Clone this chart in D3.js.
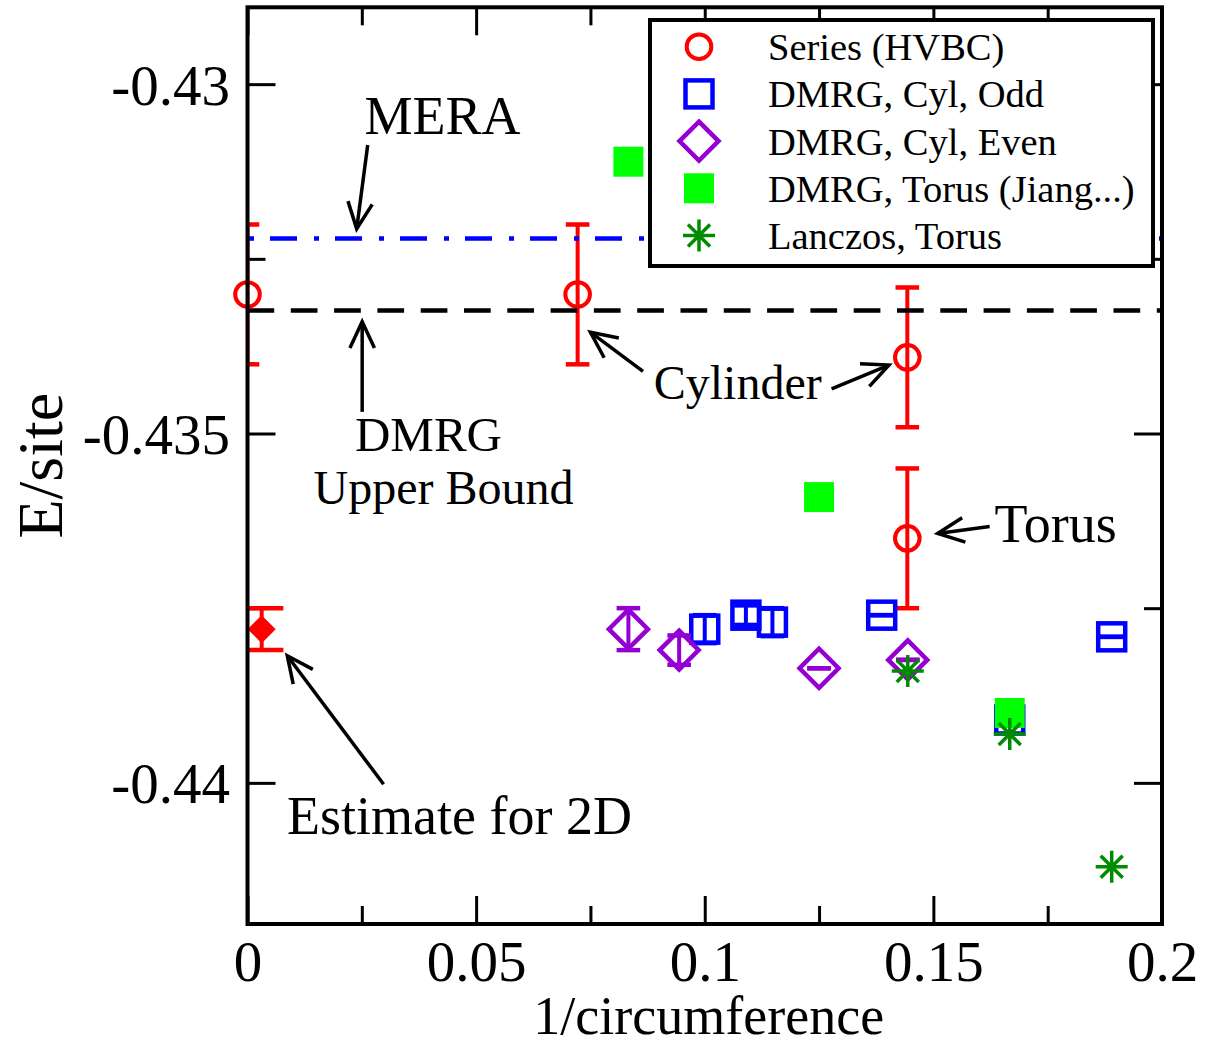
<!DOCTYPE html>
<html>
<head>
<meta charset="utf-8">
<script src="https://cdn.jsdelivr.net/npm/d3@7"></script>
<style>
  body { margin: 0; background: #fff; }
  text { font-family: "Liberation Serif", "Times New Roman", serif; }
</style>
</head>
<body>
<script>
// series (HVBC): cylinder points + torus point
const hvbcX = [0, 0.0722, 0.1443, 0.1443];
const hvbcY = [-0.43301, -0.43301, -0.43391, -0.4365];
const hvbcErr = [0.001, 0.001, 0.001, 0.001];

// DMRG cylinders, odd
const oddX = [0.1, 0.109, 0.1148, 0.1387, 0.1667, 0.189];
const oddY = [-0.4378, -0.4376, -0.4377, -0.4376, -0.4391, -0.43791];
const oddErr = [0.0002, 0.00014, 0.0002, 0, 0, 0];

// DMRG cylinders, even
const evenX = [0.0833, 0.0944, 0.125, 0.1444];
const evenY = [-0.4378, -0.4381, -0.43836, -0.43824];
const evenErr = [0.0003, 0.00021, 0, 0];

// DMRG torus (Jiang...)
const jiangX = [0.0833, 0.125, 0.1667];
const jiangY = [-0.43111, -0.43591, -0.439];

// Lanczos torus
const lanczosX = [0.1444, 0.1667, 0.189];
const lanczosY = [-0.4384, -0.4393, -0.4412];

// 2D estimate
const estX = [0.0031];
const estY = [-0.4378];
const estErr = [0.0003];

const meraE = -0.43221;
const dmrgBoundE = -0.43324;

const xTicks = [0, 0.05, 0.1, 0.15, 0.2];
const xTickLabels = ["0", "0.05", "0.1", "0.15", "0.2"];
const xMinor = [0.025, 0.075, 0.125, 0.175];
const yTicks = [-0.43, -0.435, -0.44];
const yTickLabels = ["-0.43", "-0.435", "-0.44"];
const yMinor = [-0.4325, -0.4375];

const legendLabels = ["Series (HVBC)", "DMRG, Cyl, Odd", "DMRG, Cyl, Even", "DMRG, Torus (Jiang...)", "Lanczos, Torus"];

const W = 1205, H = 1044;
const m = {left: 247.5, right: 1162, top: 7.3, bottom: 924};

const x = d3.scaleLinear().domain([0, 0.2]).range([m.left, m.right]);
const y = d3.scaleLinear().domain([-0.44202, -0.4289]).range([m.bottom, m.top]);

const svg = d3.select("body").append("svg")
    .attr("width", W)
    .attr("height", H);

svg.append("defs").append("clipPath").attr("id", "plotclip")
    .append("rect")
    .attr("x", m.left).attr("y", m.top)
    .attr("width", m.right - m.left).attr("height", m.bottom - m.top);

// ticks on all four sides, pointing in
function ticks(axis, tx, ty, len, vals, labels, pad) {
    const g = svg.append("g").attr("transform", `translate(${tx},${ty})`)
        .call(axis.tickValues(vals).tickSize(-len).tickPadding(pad || 0)
            .tickFormat((d, i) => labels ? labels[i] : ""));
    g.select(".domain").remove();
    g.selectAll("line").attr("stroke", "#000").attr("stroke-width", 3);
    g.selectAll("text").attr("font-size", 57).attr("fill", "#000")
        .style("font-family", "'Liberation Serif', serif");
    return g;
}
ticks(d3.axisBottom(x), 0, m.bottom, 28, xTicks, xTickLabels, 16.5);
ticks(d3.axisBottom(x), 0, m.bottom, 18, xMinor);
ticks(d3.axisTop(x), 0, m.top, 28, xTicks);
ticks(d3.axisTop(x), 0, m.top, 18, xMinor);
const yl = ticks(d3.axisLeft(y), m.left, 0, 28, yTicks, yTickLabels, 17.5);
yl.selectAll("text").attr("dy", "0.35em");
ticks(d3.axisLeft(y), m.left, 0, 18, yMinor);
ticks(d3.axisRight(y), m.right, 0, 28, yTicks);
ticks(d3.axisRight(y), m.right, 0, 18, yMinor);

// axis titles
svg.append("text")
    .attr("x", (m.left + m.right) / 2 + 4).attr("y", 1034)
    .attr("text-anchor", "middle").attr("font-size", 54)
    .text("1/circumference");
svg.append("text")
    .attr("transform", `translate(62,${(m.top + m.bottom) / 2}) rotate(-90)`)
    .attr("text-anchor", "middle").attr("font-size", 64)
    .text("E/site");

// symbol helpers
function sym(g, type, cx, cy, color) {
    if (type === "circle") {
        g.append("circle").attr("cx", cx).attr("cy", cy).attr("r", 12.3)
            .attr("fill", "none").attr("stroke", color).attr("stroke-width", 4);
    } else if (type === "square") {
        g.append("rect").attr("x", cx - 13.5).attr("y", cy - 13.5)
            .attr("width", 27).attr("height", 27)
            .attr("fill", "none").attr("stroke", color).attr("stroke-width", 4.5);
    } else if (type === "diamond") {
        const s = 19.5;
        g.append("path").attr("d", `M${cx},${cy - s}L${cx + s},${cy}L${cx},${cy + s}L${cx - s},${cy}Z`)
            .attr("fill", "none").attr("stroke", color).attr("stroke-width", 4.5);
    } else if (type === "fsquare") {
        g.append("rect").attr("x", cx - 15).attr("y", cy - 15)
            .attr("width", 30).attr("height", 30).attr("fill", color);
    } else if (type === "fdiamond") {
        const s = 14;
        g.append("path").attr("d", `M${cx},${cy - s}L${cx + s},${cy}L${cx},${cy + s}L${cx - s},${cy}Z`)
            .attr("fill", color);
    } else if (type === "star") {
        const a = 16, b = 11;
        g.append("path")
            .attr("d", `M${cx},${cy - a}V${cy + a}M${cx - a},${cy}H${cx + a}M${cx - b},${cy - b}L${cx + b},${cy + b}M${cx - b},${cy + b}L${cx + b},${cy - b}`)
            .attr("fill", "none").attr("stroke", color).attr("stroke-width", 3.5);
    }
}

function errbars(xs, ys, es, color, cap) {
    const g = svg.append("g").attr("clip-path", "url(#plotclip)");
    xs.forEach((d, i) => {
        const px = x(d), y1 = y(ys[i] + es[i]), y2 = y(ys[i] - es[i]);
        g.append("line").attr("x1", px).attr("x2", px).attr("y1", y1).attr("y2", y2)
            .attr("stroke", color).attr("stroke-width", 4);
        [y1, y2].forEach(yy => g.append("line")
            .attr("x1", px - cap).attr("x2", px + cap).attr("y1", yy).attr("y2", yy)
            .attr("stroke", color).attr("stroke-width", 4.5));
    });
}

function points(xs, ys, type, color) {
    const g = svg.append("g");
    xs.forEach((d, i) => sym(g, type, x(d), y(ys[i]), color));
}

const RED = "#ff0000", BLUE = "#0000ff", PURPLE = "#9400d3", LGREEN = "#00ff00", DGREEN = "#008b00";

errbars(hvbcX, hvbcY, hvbcErr, RED, 11.8);
points(hvbcX, hvbcY, "circle", RED);

// reference lines
svg.append("line")
    .attr("x1", x(0)).attr("x2", x(0.2)).attr("y1", y(meraE)).attr("y2", y(meraE))
    .attr("stroke", BLUE).attr("stroke-width", 4.5)
    .attr("stroke-dasharray", "27,17,5,16").attr("stroke-dashoffset", 42.5);
svg.append("line")
    .attr("x1", x(0)).attr("x2", x(0.2)).attr("y1", y(dmrgBoundE)).attr("y2", y(dmrgBoundE))
    .attr("stroke", "#000").attr("stroke-width", 4.5)
    .attr("stroke-dasharray", "26.7,16.6");

errbars(oddX, oddY, oddErr, BLUE, 11.8);
points(oddX, oddY, "square", BLUE);
errbars(evenX, evenY, evenErr, PURPLE, 11.8);
points(evenX, evenY, "diamond", PURPLE);
points(jiangX, jiangY, "fsquare", LGREEN);
points(lanczosX, lanczosY, "star", DGREEN);
errbars(estX, estY, estErr, RED, 21.7);
points(estX, estY, "fdiamond", RED);

// frame
svg.append("rect")
    .attr("x", m.left).attr("y", m.top)
    .attr("width", m.right - m.left).attr("height", m.bottom - m.top)
    .attr("fill", "none").attr("stroke", "#000").attr("stroke-width", 4);

// annotations (data coordinates)
const labels = [
    {t: "MERA", x: 0.02559, y: -0.43071, s: 54},
    {t: "DMRG", x: 0.02351, y: -0.43525, s: 49},
    {t: "Upper Bound", x: 0.01446, y: -0.43601, s: 48},
    {t: "Cylinder", x: 0.08884, y: -0.4345, s: 48},
    {t: "Torus", x: 0.16339, y: -0.43655, s: 54},
    {t: "Estimate for 2D", x: 0.00864, y: -0.44073, s: 54}
];
svg.append("g").selectAll("text").data(labels).join("text")
    .attr("x", d => x(d.x)).attr("y", d => y(d.y))
    .attr("font-size", d => d.s).attr("fill", "#000")
    .text(d => d.t);

const arrows = [
    [0.02629, -0.43087, 0.02388, -0.43207],
    [0.02508, -0.43469, 0.02508, -0.4334],
    [0.0865, -0.43411, 0.07499, -0.43355],
    [0.12774, -0.43436, 0.14029, -0.43402],
    [0.1623, -0.43633, 0.15095, -0.43643],
    [0.02976, -0.44002, 0.0087, -0.43818]
];
const ag = svg.append("g").attr("stroke", "#000").attr("stroke-width", 3.5).attr("fill", "none");
arrows.forEach(a => {
    const x1 = x(a[0]), y1 = y(a[1]), x2 = x(a[2]), y2 = y(a[3]);
    const ang = Math.atan2(y2 - y1, x2 - x1), L = 29, th = 25 * Math.PI / 180;
    ag.append("line").attr("x1", x1).attr("y1", y1).attr("x2", x2).attr("y2", y2);
    ag.append("path").attr("d",
        `M${x2 - L * Math.cos(ang - th)},${y2 - L * Math.sin(ang - th)}L${x2},${y2}L${x2 - L * Math.cos(ang + th)},${y2 - L * Math.sin(ang + th)}`);
});

// legend
const lg = svg.append("g");
lg.append("rect").attr("x", 650).attr("y", 20).attr("width", 503).attr("height", 246)
    .attr("fill", "#fff").attr("stroke", "#000").attr("stroke-width", 4);
const legendSyms = [["circle", RED], ["square", BLUE], ["diamond", PURPLE], ["fsquare", LGREEN], ["star", DGREEN]];
legendLabels.forEach((t, i) => {
    const cy = 46.7 + i * 47.2;
    sym(lg, legendSyms[i][0], 699, cy, legendSyms[i][1]);
    lg.append("text").attr("x", 768).attr("y", cy + 13.5)
        .attr("font-size", 38.5).attr("fill", "#000").text(t);
});
</script>
</body>
</html>
